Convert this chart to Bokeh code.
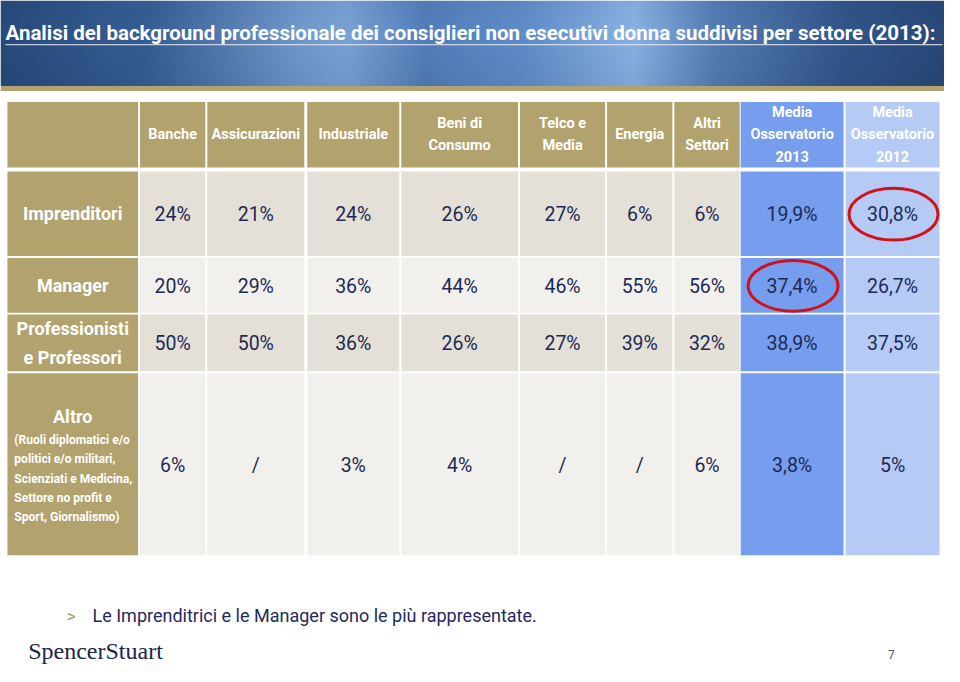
import numpy as np
from bokeh.plotting import figure
from bokeh.models import Range1d
from bokeh.core.properties import value
from bokeh.embed import file_html
from bokeh.resources import INLINE

# ---------------- data ----------------
title = "Analisi del background professionale dei consiglieri non esecutivi donna suddivisi per settore (2013):"
columns = ["Banche", "Assicurazioni", "Industriale", "Beni di\nConsumo", "Telco e\nMedia",
           "Energia", "Altri\nSettori", "Media\nOsservatorio\n2013", "Media\nOsservatorio\n2012"]
row_labels = ["Imprenditori", "Manager", "Professionisti\ne Professori", "Altro"]
altro_note = ["(Ruoli diplomatici e/o", "politici e/o militari,", "Scienziati e Medicina,",
              "Settore no profit e", "Sport, Giornalismo)"]
imprenditori = ["24%", "21%", "24%", "26%", "27%", "6%", "6%", "19,9%", "30,8%"]
manager = ["20%", "29%", "36%", "44%", "46%", "55%", "56%", "37,4%", "26,7%"]
professionisti = ["50%", "50%", "36%", "26%", "27%", "39%", "32%", "38,9%", "37,5%"]
altro = ["6%", "/", "3%", "4%", "/", "/", "6%", "3,8%", "5%"]
values = [imprenditori, manager, professionisti, altro]
highlights = [(0, 8), (1, 7)]  # (row, column) circled in red
footnote = "Le  Imprenditrici  e le Manager sono le più  rappresentate."
brand = "SpencerStuart"
page_no = "7"

# ---------------- layout (reference pixel space) ----------------
col_left = [141, 209, 310, 405, 525, 613, 681, 748, 854]
col_right = [207, 307, 403, 523, 611, 679, 747, 852, 949]
lab_left, lab_right = 7, 139
head_top, head_bot = 102, 168
row_top = [172, 259, 316, 375]
row_bot = [257, 314, 373, 558]

GOLD = "#B2A36E"
ROW_DARK = "#E4E0D7"
ROW_LIGHT = "#F2F0EC"
BLUE13 = "#769DEE"
BLUE12 = "#B5CAF5"
NAVY = "#1C2A55"
SANS = value("Roboto")

p = figure(width=944, height=666, x_range=Range1d(0, 954), y_range=Range1d(670, 0),
           output_backend="svg", toolbar_location=None, min_border=0,
           x_axis_type=None, y_axis_type=None)
p.grid.visible = False
p.outline_line_color = None
p.background_fill_color = "white"
p.border_fill_color = "white"

# ---------------- banner ----------------
W, H = 480, 43
sx = [0, 150, 300, 350, 430, 530, 640, 720, 850, 960]
sr = [40, 55, 112, 122, 82, 96, 138, 86, 50, 40]
sg = [75, 95, 152, 162, 126, 142, 178, 126, 86, 72]
sb = [125, 150, 205, 214, 186, 202, 228, 182, 140, 120]
xs = np.linspace(0, 960, W)
rr = np.interp(xs, sx, sr)
gg = np.interp(xs, sx, sg)
bb = np.interp(xs, sx, sb)
img = np.zeros((H, W), dtype=np.uint32)
view = img.view(dtype=np.uint8).reshape((H, W, 4))
for i in range(H):
    f = 1.0 - 0.10 * abs(i / H - 0.35)
    view[i, :, 0] = np.clip(rr * f, 0, 255)
    view[i, :, 1] = np.clip(gg * f, 0, 255)
    view[i, :, 2] = np.clip(bb * f, 0, 255)
    view[i, :, 3] = 255
p.image_rgba(image=[img], x=0, y=0, dw=960, dh=86)
p.quad(left=[0], right=[960], top=[86], bottom=[91], fill_color="#B4A270", line_color=None)

p.text(x=[5], y=[33], text=[title], text_font=SANS,
       text_font_style="bold", text_font_size="20.5px", text_color="white",
       text_align="left", text_baseline="middle")
p.segment(x0=[5], y0=[44.5], x1=[952], y1=[44.5], line_color="#E8EEF6", line_width=1)

# ---------------- header row ----------------
hl, hr, ht, hb, hc = [], [], [], [], []
for j, _ in enumerate(columns):
    hl.append(col_left[j]); hr.append(col_right[j]); ht.append(head_top); hb.append(head_bot)
    hc.append(BLUE13 if j == 7 else BLUE12 if j == 8 else GOLD)
hl.append(lab_left); hr.append(lab_right); ht.append(head_top); hb.append(head_bot); hc.append(GOLD)
p.quad(left=hl, right=hr, top=ht, bottom=hb, fill_color=hc, line_color=None)

tx, ty, tt = [], [], []
for j, name in enumerate(columns):
    lines = name.split("\n")
    cx = (col_left[j] + col_right[j]) / 2
    cy = (head_top + head_bot) / 2
    n = len(lines)
    for k, ln in enumerate(lines):
        tx.append(cx); ty.append(cy + (k - (n - 1) / 2) * 22); tt.append(ln)
p.text(x=tx, y=ty, text=tt, text_font=SANS, text_font_style="bold", text_font_size="14.5px",
       text_color="white", text_align="center", text_baseline="middle")

# ---------------- body ----------------
bl, br, bt, bbm, bc = [], [], [], [], []
for i in range(len(row_labels)):
    bl.append(lab_left); br.append(lab_right); bt.append(row_top[i]); bbm.append(row_bot[i]); bc.append(GOLD)
    for j in range(len(columns)):
        bl.append(col_left[j]); br.append(col_right[j]); bt.append(row_top[i]); bbm.append(row_bot[i])
        if j == 7:
            bc.append(BLUE13)
        elif j == 8:
            bc.append(BLUE12)
        else:
            bc.append(ROW_DARK if i % 2 == 0 else ROW_LIGHT)
p.quad(left=bl, right=br, top=bt, bottom=bbm, fill_color=bc, line_color=None)

vx, vy, vt = [], [], []
for i, row in enumerate(values):
    cy = (row_top[i] + row_bot[i]) / 2 + 1
    for j, v in enumerate(row):
        vx.append((col_left[j] + col_right[j]) / 2); vy.append(cy); vt.append(v)
p.text(x=vx, y=vy, text=vt, text_font=SANS, text_font_size="19.5px", text_color=NAVY,
       text_align="center", text_baseline="middle")

# row labels
lx, ly, lt = [], [], []
lab_cx = (lab_left + lab_right) / 2
for i, name in enumerate(row_labels[:3]):
    lines = name.split("\n")
    cy = (row_top[i] + row_bot[i]) / 2
    n = len(lines)
    for k, ln in enumerate(lines):
        lx.append(lab_cx); ly.append(cy + (k - (n - 1) / 2) * 30); lt.append(ln)
lx.append(lab_cx); ly.append(row_top[3] + 43); lt.append(row_labels[3])
p.text(x=lx, y=ly, text=lt, text_font=SANS, text_font_style="bold", text_font_size="18px",
       text_color="white", text_align="center", text_baseline="middle")
p.text(x=[14] * len(altro_note), y=[row_top[3] + 67 + 19.5 * k for k in range(len(altro_note))],
       text=altro_note, text_font=SANS, text_font_style="bold", text_font_size="12px",
       text_color="white", text_align="left", text_baseline="middle")

# red circles
ex = [(col_left[j] + col_right[j]) / 2 + 1 for (i, j) in highlights]
ey = [(row_top[i] + row_bot[i]) / 2 + 0.5 for (i, j) in highlights]
p.ellipse(x=ex, y=ey, width=[90, 91], height=[52, 51], fill_alpha=0, line_color="#D0121B", line_width=3)

# ---------------- footer ----------------
p.text(x=[67], y=[619], text=[">"], text_font=SANS, text_font_size="17px",
       text_color="#A8996A", text_align="left", text_baseline="middle")
p.text(x=[93], y=[619], text=[footnote], text_font=SANS, text_font_size="18px",
       text_color="#1F2A5E", text_align="left", text_baseline="middle")
p.text(x=[28], y=[654], text=[brand], text_font=value("Liberation Serif"), text_font_size="24px",
       text_color="#1C2545", text_align="left", text_baseline="middle")
p.text(x=[897], y=[658], text=[page_no], text_font=SANS, text_font_size="12px",
       text_color="#555555", text_align="left", text_baseline="middle")

open("out.html", "w").write(file_html(p, INLINE))
